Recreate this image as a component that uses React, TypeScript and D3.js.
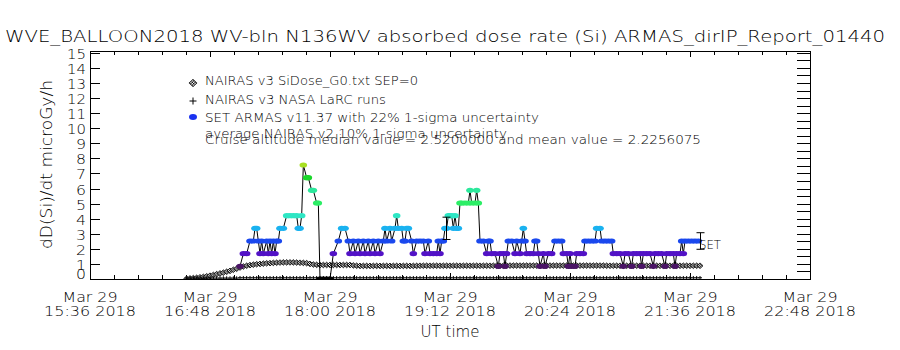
import React from "react";
import * as d3 from "d3";

const TITLE = "WVE_BALLOON2018 WV-bln N136WV absorbed dose rate (Si) ARMAS_dirIP_Report_01440";
const Y_LABEL = "dD(Si)/dt microGy/h";
const X_LABEL = "UT time";
const xTickTimes = ["15:36", "16:48", "18:00", "19:12", "20:24", "21:36", "22:48"];
const xTickDate = "Mar 29";
const xTickYear = "2018";
const yTicks = [0, 1, 2, 3, 4, 5, 6, 7, 8, 9, 10, 11, 12, 13, 14, 15];
const legendLabels = [
  "NAIRAS v3 SiDose_G0.txt SEP=0",
  "NAIRAS v3 NASA LaRC runs",
  "SET ARMAS v11.37 with 22% 1-sigma uncertainty",
];
const infoLines = [
  "average NAIRAS v2 10% 1-sigma uncertainty",
  "Cruise altitude median value = 2.5200000 and mean value = 2.2256075",
];
const endLabel = "SET";

// model series: minutes after 15:36 UT, 2-minute cadence
const MODEL_START_MIN = 58;
const MODEL_STEP_MIN = 2;
const nairasDose = [
  0.02, 0.04, 0.06, 0.08, 0.11, 0.14, 0.18, 0.22, 0.27, 0.32,
  0.37, 0.42, 0.48, 0.54, 0.61, 0.68, 0.76, 0.83, 0.88, 0.92,
  0.95, 0.98, 1.0, 1.02, 1.04, 1.05, 1.07, 1.08, 1.09, 1.1,
  1.1, 1.1, 1.1, 1.09, 1.08, 1.07, 1.05, 1.0, 0.96, 0.94,
  0.93, 0.93, 0.93, 0.93, 0.93, 0.93, 0.93, 0.93, 0.93, 0.93,
  0.9, 0.88, 0.87, 0.87, 0.87, 0.87, 0.87, 0.87, 0.87, 0.87,
  0.87, 0.87, 0.87, 0.87, 0.87, 0.87, 0.87, 0.87, 0.87, 0.87,
  0.88, 0.88, 0.88, 0.88, 0.88, 0.88, 0.88, 0.88, 0.88, 0.88,
  0.88, 0.88, 0.88, 0.88, 0.88, 0.88, 0.88, 0.88, 0.88, 0.88,
  0.88, 0.88, 0.88, 0.88, 0.88, 0.88, 0.89, 0.89, 0.89, 0.89,
  0.89, 0.89, 0.89, 0.89, 0.89, 0.89, 0.89, 0.89, 0.89, 0.89,
  0.89, 0.89, 0.89, 0.89, 0.89, 0.89, 0.89, 0.89, 0.89, 0.89,
  0.89, 0.89, 0.89, 0.89, 0.89, 0.89, 0.88, 0.88, 0.88, 0.88,
  0.88, 0.88, 0.88, 0.88, 0.88, 0.88, 0.88, 0.88, 0.88, 0.88,
  0.88, 0.88, 0.88, 0.88, 0.88, 0.88, 0.88, 0.88, 0.88, 0.88,
  0.88, 0.88, 0.88, 0.88, 0.88,
];
const larcDose = [
  0.06, 0.06, 0.06, 0.06, 0.06, 0.06, 0.06, 0.06, 0.06, 0.06,
  0.06, 0.06, 0.06, 0.06, 0.06, 0.06, 0.08, 0.08, 0.08, 0.08,
  0.08, 0.08, 0.08, 0.08, 0.08, 0.08, 0.08, 0.08, 0.08, 0.08,
  0.08, 0.08, 0.08, 0.08, 0.08, 0.08, 0.08, 0.08, 0.08, 0.08,
  0.08, 0.08, 0.08, 0.08, 0.08, 0.08, 0.08, 0.08, 0.08, 0.08,
  0.08, 0.08, 0.08, 0.08, 0.08, 0.08, 0.08, 0.08, 0.08, 0.08,
  0.08, 0.08, 0.08, 0.08, 0.08, 0.08, 0.08, 0.08, 0.08, 0.08,
  0.08, 0.08, 0.08, 0.08, 0.08, 0.08, 0.08, 0.08, 0.08, 0.08,
  0.08, 0.08, 0.08, 0.08, 0.08, 0.08, 0.08, 0.08, 0.08, 0.08,
  0.08, 0.08, 0.08, 0.08, 0.08, 0.08, 0.08, 0.08, 0.08, 0.08,
  0.08, 0.08, 0.08, 0.08, 0.08, 0.08, 0.08, 0.08, 0.08, 0.08,
  0.08, 0.08, 0.08, 0.08, 0.08, 0.08, 0.08, 0.08, 0.08, 0.08,
  0.08, 0.08, 0.08, 0.08, 0.08, 0.08, 0.08, 0.08, 0.08, 0.08,
  0.08, 0.08, 0.08, 0.08, 0.08, 0.08, 0.08, 0.08, 0.08, 0.08,
  0.08, 0.08, 0.08, 0.08, 0.08, 0.08, 0.08, 0.08, 0.08, 0.08,
  0.08, 0.08, 0.08, 0.08, 0.08,
];

// ARMAS measurements: [minutes after 15:36 UT, dose rate]
const armas: [number, number][] = [
  [90, 0.84], [92, 1.68], [94, 1.68], [96, 2.52], [98, 2.52], [99, 3.36], [100, 3.36], [101, 2.52],
  [102, 1.68], [103, 2.52], [104, 1.68], [106, 2.52], [107, 1.68], [108, 2.52], [109, 1.68], [110, 2.52],
  [111, 1.68], [112, 2.52], [113, 2.52], [114, 3.36], [116, 3.36], [118, 4.2], [120, 4.2], [122, 4.2],
  [124, 4.2], [125, 3.36], [126, 3.36], [127, 4.2], [128, 7.56], [130, 6.72], [131, 6.72], [133, 5.88],
  [134, 5.88], [136, 5.04], [137, 5.04], [138, 0], [140, 0], [142, 0], [144, 0],
  [146, 1.68], [149, 2.52], [151, 3.36], [153, 3.36], [155, 2.52], [156, 1.68], [158, 2.52], [159, 1.68],
  [161, 2.52], [162, 1.68], [164, 2.52], [165, 1.68], [167, 2.52], [168, 1.68], [170, 2.52], [171, 1.68],
  [173, 2.52], [174, 1.68], [176, 2.52], [177, 3.36], [178, 2.52], [180, 3.36], [181, 2.52], [183, 3.36],
  [184, 4.2], [185, 3.36], [187, 3.36], [188, 2.52], [189, 2.52], [190, 3.36], [191, 3.36], [193, 2.52],
  [194, 1.68], [196, 2.52], [198, 2.52], [200, 2.52], [201, 1.68], [203, 2.52], [204, 1.68], [206, 1.68],
  [208, 1.68], [209, 2.52], [210, 1.68], [211, 2.52], [212, 2.52], [213, 3.36], [214, 3.36], [215, 4.2],
  [216, 4.2], [217, 4.2], [218, 3.36], [219, 4.2], [220, 3.36], [221, 3.36], [222, 5.04], [223, 5.04],
  [225, 5.04], [227, 5.04], [228, 5.88], [229, 5.04], [231, 5.04], [232, 5.88], [233, 5.04], [234, 2.52],
  [236, 2.52], [238, 1.68], [239, 2.52], [240, 2.52], [241, 1.68], [243, 1.68], [245, 0.84], [246, 1.68],
  [248, 1.68], [249, 0.84], [250, 1.68], [251, 2.52], [253, 2.52], [255, 1.68], [256, 2.52], [258, 1.68],
  [259, 2.52], [260, 3.36], [261, 2.52], [262, 1.68], [264, 1.68], [266, 1.68], [267, 2.52], [268, 2.52],
  [269, 1.68], [270, 0.84], [272, 1.68], [273, 0.84], [275, 1.68], [277, 1.68], [279, 2.52], [281, 2.52],
  [283, 2.52], [284, 1.68], [286, 1.68], [287, 0.84], [288, 1.68], [289, 0.84], [291, 0.84], [292, 1.68],
  [294, 1.68], [296, 1.68], [297, 2.52], [299, 2.52], [301, 2.52], [303, 2.52], [304, 3.36], [306, 3.36],
  [307, 2.52], [309, 2.52], [311, 2.52], [313, 2.52], [314, 1.68], [316, 1.68], [318, 1.68], [320, 0.84],
  [321, 1.68], [323, 1.68], [325, 0.84], [326, 1.68], [328, 1.68], [330, 1.68], [331, 0.84], [332, 1.68],
  [334, 1.68], [336, 1.68], [338, 0.84], [339, 1.68], [341, 1.68], [343, 1.68], [345, 0.84], [346, 1.68],
  [348, 1.68], [350, 1.68], [351, 0.84], [352, 1.68], [354, 1.68], [355, 2.52], [356, 1.68], [357, 2.52],
  [359, 2.52], [361, 2.52], [363, 2.52], [365, 2.52],
];

// 1-sigma error bars
const errMinutes = [213.6, 366];
const errCenter = [3.36, 2.52];
const errHalf = [0.74, 0.55];

const doseLevels = [0, 0.84, 1.68, 2.52, 3.36, 4.2, 5.04, 5.88, 6.72, 7.56];
const levelColors = [
  "#000000", "#4a1466", "#5212c6", "#1a48ee", "#1ab2f0",
  "#2ee6c4", "#2cee66", "#2ce89c", "#1ad62a", "#a8e022",
];

const T0 = Date.UTC(2018, 2, 29, 15, 36);
const toDate = (m: number) => new Date(T0 + m * 60000);
const SPAN_MIN = 432;

const L = 90, R = 810, TOP = 51, BOT = 279;
const FONT = "DejaVu Sans, Verdana, sans-serif";

export default function App() {
  const x = d3.scaleUtc().domain([toDate(0), toDate(SPAN_MIN)]).range([L, R]);
  const y = d3.scaleLinear().domain([0, 15.12]).range([BOT, TOP]);

  const majorMin = xTickTimes.map((s) => {
    const [h, mm] = s.split(":").map(Number);
    return h * 60 + mm - (15 * 60 + 36);
  });
  const minorMin = d3.range(0, SPAN_MIN + 0.01, 14.4);

  const colorFor = (v: number) => {
    let best = 0;
    doseLevels.forEach((lv, i) => {
      if (Math.abs(lv - v) < Math.abs(doseLevels[best] - v)) best = i;
    });
    return levelColors[best];
  };

  const modelPts = nairasDose.map((v, i) => ({ m: MODEL_START_MIN + i * MODEL_STEP_MIN, v }));
  const larcPts = larcDose.map((v, i) => ({ m: MODEL_START_MIN + i * MODEL_STEP_MIN, v }));

  const armasLine = d3
    .line<[number, number]>()
    .x((d) => x(toDate(d[0])))
    .y((d) => y(d[1]));

  const diamond = "M0,-2.8L3,0L0,2.8L-3,0Z";
  const rightTicks = d3.range(0.5, 15.01, 0.5);

  return (
    <svg
      width={900}
      height={350}
      style={{ position: "absolute", left: 0, top: 0, background: "#fff" }}
      fontFamily={FONT}
      fontWeight={200}
    >
      <defs>
        <pattern id="chk" width={2} height={2} patternUnits="userSpaceOnUse">
          <rect width={2} height={2} fill="#fff" />
          <rect width={1} height={1} fill="#000" />
          <rect x={1} y={1} width={1} height={1} fill="#000" />
        </pattern>
        <clipPath id="plot">
          <rect x={L} y={TOP} width={R - L} height={BOT - TOP} />
        </clipPath>
      </defs>
      <rect width={900} height={350} fill="#fff" />

      {/* title */}
      <text x={5} y={42} fontSize={15} textLength={880} lengthAdjust="spacingAndGlyphs">
        {TITLE}
      </text>

      {/* frame */}
      <rect x={L + 0.5} y={TOP + 0.5} width={R - L} height={BOT - TOP} fill="none" stroke="#000" strokeWidth={1} />

      {/* x ticks bottom & top */}
      {minorMin.map((m, i) => {
        const isMajor = majorMin.some((mm) => Math.abs(mm - m) < 0.01);
        const len = isMajor ? 6 : 4;
        const xx = Math.round(x(toDate(m))) + 0.5;
        return (
          <g key={"xt" + i}>
            <line x1={xx} x2={xx} y1={BOT} y2={BOT - len} stroke="#000" />
            <line x1={xx} x2={xx} y1={TOP} y2={TOP + len} stroke="#000" />
          </g>
        );
      })}

      {/* x tick labels */}
      {majorMin.map((m, i) => {
        const xx = x(toDate(m));
        return (
          <g key={"xl" + i}>
            <text x={xx} y={301.5} fontSize={14} textAnchor="middle" textLength={55} lengthAdjust="spacingAndGlyphs">
              {xTickDate}
            </text>
            <text x={xx} y={315.5} fontSize={14} textAnchor="middle" textLength={92} lengthAdjust="spacingAndGlyphs">
              {xTickTimes[i] + " " + xTickYear}
            </text>
          </g>
        );
      })}

      {/* y ticks left */}
      {yTicks.map((t) => {
        const yy = Math.round(y(t)) + 0.5;
        return (
          <g key={"yt" + t}>
            <line x1={L} x2={L + 10} y1={yy} y2={yy} stroke="#000" />
            <text
              x={86}
              y={t === 0 ? BOT : yy + 5.5}
              fontSize={14}
              textAnchor="end"
              textLength={t >= 10 ? 19 : 10}
              lengthAdjust="spacingAndGlyphs"
            >
              {t}
            </text>
          </g>
        );
      })}

      {/* right ticks */}
      {rightTicks.map((t, i) => {
        const yy = Math.round(y(t)) + 0.5;
        return <line key={"rt" + i} x1={R - 13} x2={R} y1={yy} y2={yy} stroke="#000" />;
      })}

      {/* axis titles */}
      <text
        transform="translate(52,164.5) rotate(-90)"
        fontSize={15}
        textAnchor="middle"
        textLength={169}
        lengthAdjust="spacingAndGlyphs"
      >
        {Y_LABEL}
      </text>
      <text x={450} y={337} fontSize={15} textAnchor="middle" textLength={59} lengthAdjust="spacingAndGlyphs">
        {X_LABEL}
      </text>

      {/* legend */}
      <path d={diamond} transform="translate(193,83) scale(1.35)" fill="url(#chk)" stroke="#000" strokeWidth={0.5} />
      <g stroke="#000" strokeWidth={1}>
        <line x1={189.5} x2={196.5} y1={101} y2={101} />
        <line x1={193} x2={193} y1={97.5} y2={104.5} />
      </g>
      <ellipse cx={193} cy={117} rx={4} ry={3} fill="#1a32f0" />
      <text x={205} y={84.5} fontSize={11.5} textLength={213} lengthAdjust="spacingAndGlyphs">{legendLabels[0]}</text>
      <text x={205} y={103.5} fontSize={11.5} textLength={181} lengthAdjust="spacingAndGlyphs">{legendLabels[1]}</text>
      <text x={205} y={122} fontSize={11.5} textLength={334} lengthAdjust="spacingAndGlyphs">{legendLabels[2]}</text>
      <text x={205} y={137.5} fontSize={11.5} textLength={302} lengthAdjust="spacingAndGlyphs">{infoLines[0]}</text>
      <text x={205} y={144} fontSize={11.5} textLength={496} lengthAdjust="spacingAndGlyphs">{infoLines[1]}</text>

      <g clipPath="url(#plot)">
        {/* NAIRAS v3 diamonds */}
        {modelPts.map((p, i) => (
          <path
            key={"nd" + i}
            d={diamond}
            transform={`translate(${x(toDate(p.m))},${y(p.v)})`}
            fill="url(#chk)"
            stroke="#000"
            strokeWidth={0.8}
          />
        ))}
        {/* LaRC plus */}
        {larcPts.map((p, i) => {
          const cx = x(toDate(p.m));
          const cy = y(p.v);
          return (
            <g key={"lp" + i} stroke="#000" strokeWidth={1}>
              <line x1={cx - 2} x2={cx + 2} y1={cy} y2={cy} />
              <line x1={cx} x2={cx} y1={cy - 1.8} y2={cy + 1.8} />
            </g>
          );
        })}
        {/* ARMAS */}
        <path d={armasLine(armas) || ""} fill="none" stroke="#000" strokeWidth={1} />
        {armas.map((d, i) => (
          <ellipse
            key={"ar" + i}
            cx={x(toDate(d[0]))}
            cy={y(d[1])}
            rx={3.8}
            ry={2.6}
            fill={colorFor(d[1])}
          />
        ))}
        {/* error bars */}
        {errMinutes.map((m, i) => {
          const cx = Math.round(x(toDate(m))) + 0.5;
          const y1 = y(errCenter[i] + errHalf[i]);
          const y2 = y(errCenter[i] - errHalf[i]);
          return (
            <g key={"eb" + i} stroke="#000" strokeWidth={1}>
              <line x1={cx} x2={cx} y1={y1} y2={y2} />
              <line x1={cx - 4} x2={cx + 4} y1={y1} y2={y1} />
              <line x1={cx - 4} x2={cx + 4} y1={y2} y2={y2} />
            </g>
          );
        })}
      </g>
      <text
        x={x(toDate(errMinutes[1])) - 1}
        y={249}
        fontSize={12.5}
        textLength={22}
        lengthAdjust="spacingAndGlyphs"
      >
        {endLabel}
      </text>
    </svg>
  );
}
